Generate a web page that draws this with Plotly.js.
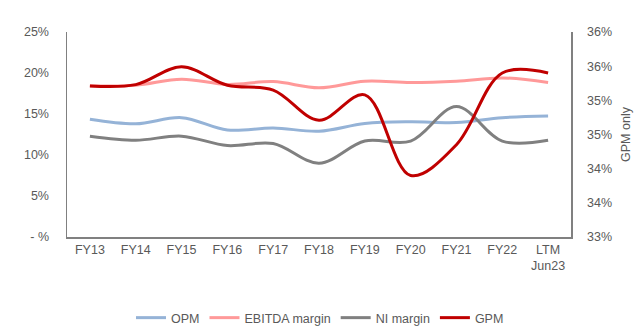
<!DOCTYPE html>
<html><head><meta charset="utf-8">
<script src="https://cdn.plot.ly/plotly-3.0.1.min.js"></script>
<style>html,body{margin:0;padding:0;background:#fff}#chart{width:640px;height:333px}</style>
</head><body><div id="chart"></div>
<script>
const categories = ["FY13","FY14","FY15","FY16","FY17","FY18","FY19","FY20","FY21","FY22","LTM<br>Jun23"];
const opm    = [14.35,13.8,14.55,13.05,13.3,12.9,13.85,14.05,13.95,14.55,14.75];
const ebitda = [18.45,18.5,19.25,18.6,18.95,18.2,19.0,18.85,19.0,19.4,18.85];
const ni     = [12.3,11.8,12.3,11.15,11.4,9.0,11.7,11.7,15.9,11.7,11.8];
const gpm    = [35.21,35.23,35.49,35.22,35.15,34.71,35.08,33.90,34.35,35.40,35.40];
const leftTicks = [0,5,10,15,20,25];
const leftLabels = ["- %","5%","10%","15%","20%","25%"];
const rightTicks = [33,33.5,34,34.5,35,35.5,36];
const rightLabels = rightTicks.map(v => Math.round(v) + "%");

const font = {family: "Liberation Sans, Arial, sans-serif", size: 12.5, color: "#595959"};
function tr(name, y, color, axis) {
  return {x: categories, y: y, name: name, type: "scatter", mode: "lines", yaxis: axis,
          line: {color: color, width: 3, shape: "spline", smoothing: 1}};
}
const data = [
  tr("OPM", opm, "#95B3D7", "y"),
  tr("EBITDA margin", ebitda, "#FF9999", "y"),
  tr("NI margin", ni, "#808080", "y"),
  tr("GPM", gpm, "#C00000", "y2")
];
const layout = {
  width: 640, height: 333,
  margin: {l: 67, r: 69, t: 32, b: 96},
  paper_bgcolor: "#fff", plot_bgcolor: "#fff",
  font: font,
  showlegend: true,
  legend: {orientation: "h", x: 0.5, xanchor: "center", xref: "container", yref: "container",
           y: 0.045, yanchor: "middle", font: font, itemwidth: 30},
  xaxis: {type: "category", range: [-0.5, 10.5], showgrid: false, zeroline: false, showline: true,
          linecolor: "#808080", linewidth: 1.5, ticks: "", tickfont: font, fixedrange: true, automargin: false},
  yaxis: {range: [0, 25], tickvals: leftTicks, ticktext: leftLabels, showgrid: false, zeroline: false,
          showline: true, linecolor: "#808080", linewidth: 1.5, ticks: "", ticklabelstandoff: 14, tickfont: font,
          automargin: false},
  yaxis2: {range: [33, 36], overlaying: "y", side: "right", tickvals: rightTicks, ticktext: rightLabels,
           showgrid: false, zeroline: false, showline: true, linecolor: "#808080", linewidth: 1.5, ticks: "",
           ticklabelstandoff: 12, tickfont: font, automargin: false,
           title: {text: "GPM only", font: font, standoff: 10}}
};
Plotly.newPlot("chart", data, layout, {displayModeBar: false, staticPlot: true});
</script>
</body></html>
